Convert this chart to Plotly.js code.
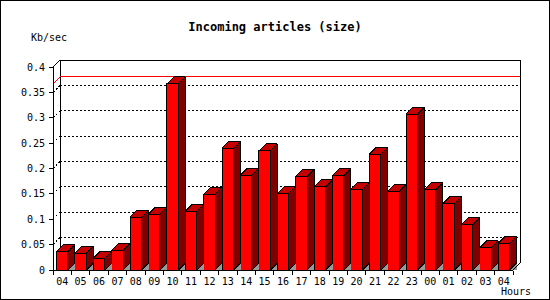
<!DOCTYPE html>
<html><head><meta charset="utf-8">
<script src="https://cdn.plot.ly/plotly-3.0.1.min.js"></script>
<style>
html,body{margin:0;padding:0;background:#fff}
#wrap{position:relative;width:550px;height:300px}
#chart{width:550px;height:300px}
#chart svg path{shape-rendering:crispEdges}
#border{position:absolute;left:0;top:0;width:550px;height:300px;box-sizing:border-box;border:1px solid #000;pointer-events:none}
</style>
</head><body>
<div id="wrap"><div id="chart"></div><div id="border"></div></div>
<script>
// ---- data ----
const hours = ["04","05","06","07","08","09","10","11","12","13","14","15","16","17","18","19","20","21","22","23","00","01","02","03","04"];
const kbPerSec = [0.0366,0.0333,0.0228,0.0386,0.104,0.110,0.3667,0.116,0.1495,0.240,0.187,0.2347,0.1508,0.1845,0.164,0.1865,0.1588,0.228,0.1548,0.3073,0.1588,0.131,0.0895,0.044,0.0519];
const yTickVals = [0,0.05,0.1,0.15,0.2,0.25,0.3,0.35,0.4];
const yTickText = ["0","0.05","0.1","0.15","0.2","0.25","0.3","0.35","0.4"];
const titleText = "Incoming articles (size)";
const yUnit = "Kb/sec";
const xUnit = "Hours";

// ---- geometry ----
const W=550,H=300, ML=50, MR=27, MT=57, MB=27;
const PAD=3, DEPTH=7;
const plotW = W-ML-MR, plotH = H-MT-MB;
const n = hours.length;
const yTop = yTickVals[yTickVals.length-1];
const frontW = plotW - PAD*2 - DEPTH;
const frontH = plotH - PAD*2 - DEPTH;
const pxc = frontW/n, pyu = frontH/yTop;
const dX = DEPTH/pxc, dY = DEPTH/pyu;
const BW = 0.625;
const idx = hours.map((_,i)=>i);
const xL = -0.5, xR = n-0.5;

// ---- 3D faces built from the data ----
const sideX=[],sideY=[],topX=[],topY=[],shX=[],shY=[];
kbPerSec.forEach((v,i)=>{
  const l=i-BW/2, r=i+BW/2;
  sideX.push(r,r+dX,r+dX,r,r,null); sideY.push(0,dY,v+dY,v,0,null);
  topX.push(l,r,r+dX,l+dX,l,null);  topY.push(v,v,v+dY,v+dY,v,null);
  shX.push(r,r+dX,r+dX,r,null);     shY.push(0,dY,0,0,null);
});
const vmax = Math.max(...kbPerSec);

const traces = [
  {type:'bar', x:idx, y:kbPerSec, width:BW, marker:{color:'#ff0000', line:{color:'#000', width:1}}, hoverinfo:'skip'},
  {type:'scatter', mode:'lines', x:shX, y:shY, fill:'toself', fillcolor:'#999999', line:{width:0, color:'#999999'}, hoverinfo:'skip'},
  {type:'scatter', mode:'lines', x:sideX, y:sideY, fill:'toself', fillcolor:'#800000', line:{width:1, color:'#000'}, hoverinfo:'skip'},
  {type:'scatter', mode:'lines', x:topX, y:topY, fill:'toself', fillcolor:'#c40000', line:{width:1, color:'#000'}, hoverinfo:'skip'},
  {type:'scatter', mode:'lines', x:[xL,xL,xL+dX,xR+dX,xR+dX,xR,xL], y:[0,yTop,yTop+dY,yTop+dY,dY,0,0], line:{width:1,color:'#000'}, hoverinfo:'skip'}
];

const shapes = [];
shapes.push({type:'line', layer:'below', x0:xL+dX, x1:xL+dX, y0:dY, y1:yTop+dY, line:{color:'#000', width:1}});
yTickVals.slice(1,-1).forEach(v=>{
  shapes.push({type:'line', layer:'below', x0:xL+dX, x1:xR+dX, y0:v+dY, y1:v+dY, line:{color:'#000', width:1, dash:'2px,2px'}});
  shapes.push({type:'line', layer:'below', x0:xL, x1:xL+dX, y0:v, y1:v+dY, line:{color:'#000', width:1, dash:'2px,2px'}});
});
shapes.push({type:'line', layer:'below', x0:xL+dX, x1:xR+dX, y0:vmax+dY, y1:vmax+dY, line:{color:'#ff0000', width:1}});
shapes.push({type:'line', layer:'below', x0:xL, x1:xL+dX, y0:vmax, y1:vmax+dY, line:{color:'#ff0000', width:1}});

const font = {family:'DejaVu Sans Mono', size:10, color:'#000'};
const layout = {
  width:W, height:H, margin:{l:ML,r:MR,t:MT,b:MB,pad:0},
  paper_bgcolor:'#fff', plot_bgcolor:'#fff', showlegend:false,
  font:font,
  title:{text:'<b>'+titleText+'</b>', font:{family:'DejaVu Sans Mono', size:12, color:'#000'}, xref:'container', x:0.5, xanchor:'center', yref:'container', y:1-27/H, yanchor:'middle'},
  xaxis:{range:[xL-PAD/pxc, xR+dX+PAD/pxc], anchor:'free', position:PAD/plotH, tickmode:'array', tickvals:idx, ticktext:hours, ticks:'', ticklabelstandoff:4,
         minor:{tickmode:'array', tickvals:hours.map((_,i)=>i-0.5).concat([xR]), ticks:'outside', ticklen:4, tickcolor:'#000', tickwidth:1, showgrid:false},
         showgrid:false, zeroline:false, showline:false, tickfont:font, fixedrange:true},
  yaxis:{range:[-PAD/pyu, yTop+dY+PAD/pyu], anchor:'free', position:PAD/plotW, tickmode:'array', tickvals:yTickVals, ticktext:yTickText, ticks:'outside', ticklen:4, tickcolor:'#000', tickwidth:1, ticklabelstandoff:2,
         showgrid:false, zeroline:false, showline:false, tickfont:font, fixedrange:true},
  shapes:shapes,
  annotations:[
    {text:yUnit, xref:'paper', yref:'paper', x:(29-ML)/plotW, y:(H-MB-37)/plotH, xanchor:'left', yanchor:'middle', showarrow:false, font:font},
    {text:xUnit, xref:'paper', yref:'paper', x:(533-ML)/plotW, y:(H-MB-291.7)/plotH, xanchor:'right', yanchor:'middle', showarrow:false, font:font}
  ]
};
Plotly.newPlot('chart', traces, layout, {staticPlot:true, displayModeBar:false});
</script>
</body></html>
